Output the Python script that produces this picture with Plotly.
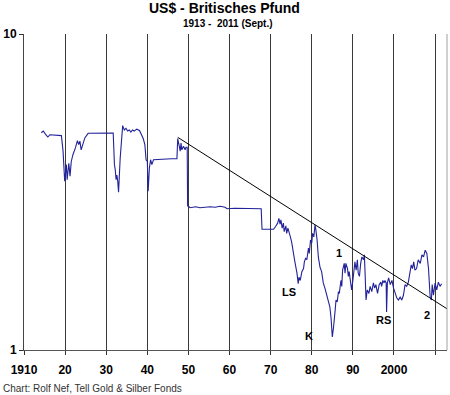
import plotly.graph_objects as go

# GBP in US$
years = [1914.2, 1914.7, 1915.2, 1915.8, 1916.3, 1919.1, 1919.5, 1919.9, 1920.3, 1920.5,
         1920.9, 1921.2, 1921.5, 1921.9, 1922.5, 1923.0, 1923.3, 1923.6, 1923.9, 1924.2,
         1924.8, 1925.6, 1930.0, 1931.4, 1931.7, 1932.0, 1932.2, 1932.4, 1932.6, 1932.8,
         1933.0, 1933.4, 1933.8, 1934.0, 1934.4, 1934.8, 1935.2, 1935.6, 1936.0, 1936.4,
         1936.8, 1937.4, 1938.1, 1938.4, 1938.8, 1939.0, 1939.4, 1939.7, 1940.0, 1940.2,
         1940.5, 1940.8, 1941.1, 1941.5, 1945.9, 1947.2, 1947.4, 1947.7, 1948.0, 1948.2,
         1948.4, 1948.8, 1949.2, 1949.4, 1949.7, 1949.8,
         1949.9, 1950.4, 1951.1, 1951.8, 1952.8, 1954.0, 1955.3, 1956.5, 1957.7, 1958.9,
         1959.4, 1961.3, 1963.8, 1966.2, 1967.7, 1967.9, 1970.3, 1970.7, 1971.2, 1971.7,
         1972.0, 1972.3, 1972.5, 1972.8, 1973.1, 1973.3, 1973.7, 1973.9, 1974.2, 1974.5,
         1974.8, 1975.1, 1975.5, 1975.9, 1976.4, 1976.7, 1976.9, 1977.2, 1977.6, 1978.0,
         1978.2, 1978.5, 1978.8, 1979.2, 1979.4, 1979.7, 1980.0, 1980.2, 1980.5, 1980.8,
         1981.0, 1981.3, 1981.6, 1982.0, 1982.4, 1982.8, 1983.2, 1983.5, 1983.8, 1984.0,
         1984.4, 1984.7, 1985.0, 1985.3, 1985.4, 1985.7, 1985.9, 1986.2, 1986.5, 1986.7,
         1987.1, 1987.3, 1987.5, 1987.9, 1988.1, 1988.3, 1988.7, 1988.9, 1989.1, 1989.5,
         1989.7, 1990.0, 1990.3, 1990.5, 1990.8, 1991.1, 1991.3, 1991.6, 1991.9, 1992.2,
         1992.6, 1992.8, 1993.0, 1993.2, 1993.5, 1993.9, 1994.2, 1994.6, 1995.0, 1995.3,
         1995.6, 1996.0, 1996.4, 1996.8, 1997.0, 1997.3, 1997.6, 1997.8, 1998.1, 1998.2,
         1998.4, 1998.7, 1999.1, 1999.5, 1999.9, 2000.3, 2000.7, 2001.1, 2001.5, 2001.9,
         2002.3, 2002.7, 2003.1, 2003.5, 2003.9, 2004.2, 2004.5, 2004.8, 2005.1, 2005.5,
         2005.9, 2006.4, 2006.8, 2007.2, 2007.6, 2008.0, 2008.4, 2008.8, 2009.1, 2009.3,
         2009.6, 2010.0, 2010.4, 2010.8, 2011.2, 2011.6]
rates = [4.87, 4.93, 4.82, 4.72, 4.80, 4.77, 4.26, 3.42, 3.86, 3.46,
         3.90, 3.55, 3.95, 4.15, 4.36, 4.60, 4.47, 4.58, 4.30, 4.41,
         4.69, 4.85, 4.84, 4.85, 4.86, 3.86, 3.72, 3.46, 3.58, 3.42,
         3.16, 4.05, 4.69, 5.13, 4.97, 5.03, 4.93, 4.97, 4.89, 4.97,
         4.93, 5.00, 4.95, 4.86, 4.69, 4.67, 4.47, 4.00, 3.95, 3.18,
         3.77, 4.00, 3.86, 4.00, 4.03, 4.03, 4.67, 4.47, 4.26, 4.52,
         4.30, 4.41, 4.30, 4.38, 4.38, 2.85,
         2.86, 2.82, 2.83, 2.84, 2.82, 2.83, 2.84, 2.83, 2.85, 2.83,
         2.80, 2.81, 2.81, 2.80, 2.80, 2.41, 2.41, 2.41, 2.46, 2.52,
         2.61, 2.50, 2.58, 2.43, 2.52, 2.37, 2.47, 2.34, 2.43, 2.37,
         2.28, 2.20, 2.00, 1.90, 1.75, 1.62, 1.70, 1.66, 1.77, 1.81,
         1.90, 1.95, 1.93, 2.10, 2.02, 2.23, 2.18, 2.34, 2.28, 2.49,
         2.40, 2.23, 1.97, 1.83, 1.77, 1.63, 1.57, 1.51, 1.47, 1.42,
         1.37, 1.26, 1.10, 1.18, 1.24, 1.34, 1.44, 1.42, 1.53, 1.51,
         1.66, 1.59, 1.79, 1.88, 1.75, 1.88, 1.81, 1.71, 1.77, 1.63,
         1.55, 1.66, 1.83, 1.90, 1.79, 1.93, 1.75, 1.71, 1.88, 1.97,
         1.93, 2.00, 1.71, 1.44, 1.55, 1.51, 1.59, 1.53, 1.63, 1.57,
         1.61, 1.51, 1.61, 1.64, 1.59, 1.66, 1.63, 1.66, 1.63, 1.32,
         1.63, 1.69, 1.61, 1.66, 1.57, 1.51, 1.46, 1.44, 1.47, 1.44,
         1.49, 1.61, 1.59, 1.64, 1.77, 1.86, 1.81, 1.90, 1.79, 1.81,
         1.93, 1.88, 2.00, 1.97, 2.07, 2.02, 1.81, 1.47, 1.44, 1.61,
         1.49, 1.63, 1.55, 1.64, 1.59, 1.62]

# Downward trend line
trend_years = [1947.4, 2012.9]
trend_rates = [4.71, 1.35]

x_tickvals = [1910, 1920, 1930, 1940, 1950, 1960, 1970, 1980, 1990, 2000, 2010]
x_ticktext = ["1910", "20", "30", "40", "50", "60", "70", "80", "90", "2000", ""]
y_tickvals = [1, 10]
y_ticktext = ["1", "10"]

# chart labels
label_texts = ["LS", "1", "K", "RS", "2"]
label_px = [289, 339, 309, 383, 427]
label_py = [292, 253, 336, 320, 315]

L, R, T, B = 24, 3, 34, 45
W, H = 450, 395
pw, ph = W - L - R, H - T - B


def px2paper(px, py):
    return (px - L) / pw, (H - B - py) / ph


fig = go.Figure()
fig.add_trace(go.Scatter(x=years, y=rates, mode="lines",
                         line=dict(color="#22229a", width=1.1), hoverinfo="skip"))
fig.add_trace(go.Scatter(x=trend_years, y=trend_rates, mode="lines",
                         line=dict(color="#000000", width=1), hoverinfo="skip"))

font_fam = "Liberation Sans, Arial, sans-serif"

fig.update_layout(
    width=W, height=H,
    margin=dict(l=L, r=R, t=T, b=B, pad=0, autoexpand=False),
    paper_bgcolor="white", plot_bgcolor="white",
    showlegend=False,
    font=dict(family=font_fam, color="black"),
    xaxis=dict(range=[1910, 2012.9], tickvals=x_tickvals, ticktext=x_ticktext,
               showgrid=True, gridcolor="#3a3a3a", gridwidth=1,
               showline=True, linecolor="#555555", linewidth=1,
               ticks="outside", ticklen=4, tickcolor="#333333",
               tickfont=dict(size=12, family=font_fam, weight="bold"),
               ticklabelstandoff=5, zeroline=False, automargin=False),
    yaxis=dict(type="log", range=[0, 1], tickvals=y_tickvals, ticktext=y_ticktext,
               showgrid=True, gridcolor="#a0a0a0", gridwidth=1,
               showline=True, linecolor="#444444", linewidth=1,
               ticks="outside", ticklen=4, tickcolor="#333333",
               tickfont=dict(size=12, family=font_fam, weight="bold"),
               zeroline=False, automargin=False),
)

# right border
fig.add_shape(type="line", xref="paper", yref="paper", x0=1, x1=1, y0=0, y1=1,
              line=dict(color="#a0a0a0", width=1))

texts = [
    ("<b>US$ - Britisches Pfund</b>", 224, 8, "center", 14, "black"),
    ("<b>1913 -  2011 (Sept.)</b>", 228, 23, "center", 10, "black"),
    ("Chart: Rolf Nef, Tell Gold & Silber Fonds", 1, 388, "left", 10, "#333333"),
]
for txt, px, py, xa, fs, col in texts:
    xp, yp = px2paper(px, py)
    fig.add_annotation(text=txt, xref="paper", yref="paper", x=xp, y=yp,
                       xanchor=xa, yanchor="middle", showarrow=False,
                       font=dict(size=fs, family=font_fam, color=col))

for t, px, py in zip(label_texts, label_px, label_py):
    xp, yp = px2paper(px, py)
    fig.add_annotation(text="<b>" + t + "</b>", xref="paper", yref="paper",
                       x=xp, y=yp, showarrow=False,
                       xanchor="center", yanchor="middle",
                       font=dict(size=11, family=font_fam, color="black"))

fig.write_html("out.html", config={"displayModeBar": False},
               post_script="document.body.style.margin='0px';document.body.style.padding='0px';")
